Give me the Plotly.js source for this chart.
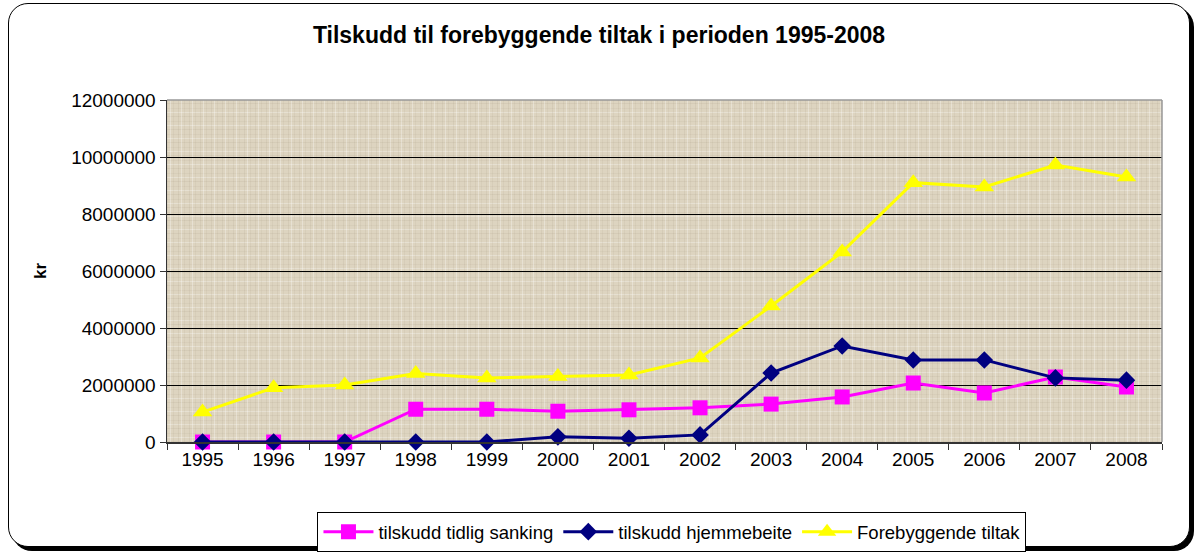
<!DOCTYPE html>
<html>
<head>
<meta charset="utf-8">
<script src="https://cdn.plot.ly/plotly-3.0.1.min.js"></script>
<style>
  html, body { margin: 0; padding: 0; background: #ffffff; }
  #frame {
    position: absolute; left: 8px; top: 3px; width: 1180px; height: 542px;
    border: 1.5px solid #000; border-radius: 20px;
    box-shadow: 4px 4px 0 #000; background: #fff;
  }
  #texture {
    position: absolute; left: 167px; top: 100px; width: 995px; height: 342px;
    background-color: #ddd4c0;
    background-image:
      repeating-linear-gradient(90deg, rgba(140,125,100,0.10) 0 1px, rgba(0,0,0,0) 1px 3px, rgba(255,255,255,0.30) 3px 4px, rgba(0,0,0,0) 4px 6px, rgba(140,125,100,0.08) 6px 7px, rgba(0,0,0,0) 7px 11px),
      repeating-linear-gradient(0deg, rgba(140,125,100,0.10) 0 1px, rgba(0,0,0,0) 1px 4px, rgba(255,255,255,0.28) 4px 5px, rgba(0,0,0,0) 5px 8px, rgba(140,125,100,0.07) 8px 9px, rgba(0,0,0,0) 9px 13px);
  }
  #chart { position: absolute; left: 0; top: 0; width: 1198px; height: 553px; }
</style>
</head>
<body>
<div id="frame"></div>
<div id="texture"></div>
<div id="chart"></div>
<script>
const years = ['1995','1996','1997','1998','1999','2000','2001','2002','2003','2004','2005','2006','2007','2008'];
const tidligSanking = [0, 0, 0, 1150000, 1150000, 1080000, 1130000, 1200000, 1330000, 1580000, 2070000, 1720000, 2280000, 1930000];
const hjemmebeite   = [0, 0, 0, 0, 0, 180000, 130000, 250000, 2420000, 3370000, 2880000, 2880000, 2250000, 2170000];
const forebyggende  = [1050000, 1900000, 2000000, 2400000, 2250000, 2300000, 2350000, 2950000, 4770000, 6670000, 9100000, 8950000, 9720000, 9300000];
const yTicks = [0, 2000000, 4000000, 6000000, 8000000, 10000000, 12000000];
const yTickText = ['0','2000000','4000000','6000000','8000000','10000000','12000000'];

const FONT = 'Liberation Sans, Arial, sans-serif';

const traces = [
  { x: years, y: tidligSanking, name: 'tilskudd tidlig sanking', type: 'scatter', mode: 'lines+markers', cliponaxis: false,
    line: { color: '#ff00ff', width: 3 }, marker: { symbol: 'square', size: 15, color: '#ff00ff' } },
  { x: years, y: hjemmebeite, name: 'tilskudd hjemmebeite', type: 'scatter', mode: 'lines+markers', cliponaxis: false,
    line: { color: '#000080', width: 3 }, marker: { symbol: 'diamond', size: 13.5, color: '#000080' } },
  { x: years, y: forebyggende, name: 'Forebyggende tiltak', type: 'scatter', mode: 'lines+markers', cliponaxis: false,
    line: { color: '#ffff00', width: 3 }, marker: { symbol: 'triangle-up', size: 17, color: '#ffff00' } }
];

const layout = {
  width: 1198, height: 553,
  paper_bgcolor: 'rgba(0,0,0,0)', plot_bgcolor: 'rgba(0,0,0,0)',
  margin: { l: 167, r: 36, t: 100, b: 111, autoexpand: false },
  font: { family: FONT, color: '#000', size: 17 },
  title: { text: '<b>Tilskudd til forebyggende tiltak i perioden 1995-2008</b>',
    font: { family: FONT, size: 23, color: '#000' }, x: 0.5, xanchor: 'center', y: 0.937, yanchor: 'middle' },
  xaxis: {
    type: 'category', range: [-0.5, 13.5], autorange: false, automargin: false,
    tickson: 'boundaries', ticks: 'outside', ticklen: 6, tickcolor: '#333',
    showline: true, linecolor: '#333', linewidth: 1.5, showgrid: false, zeroline: false,
    tickfont: { family: FONT, size: 19, color: '#000' }
  },
  yaxis: {
    range: [0, 12000000], autorange: false, automargin: false,
    tickvals: yTicks, ticktext: yTickText, ticks: 'outside', ticklen: 6, tickcolor: '#333',
    showline: true, linecolor: '#333', linewidth: 1.5, showgrid: true, gridcolor: '#000', gridwidth: 1,
    zeroline: false, tickfont: { family: FONT, size: 19, color: '#000' },
    title: { text: '<b>kr</b>', font: { family: FONT, size: 17, color: '#000' }, standoff: 20 }
  },
  showlegend: true,
  legend: {
    orientation: 'h', x: 0.5075, xanchor: 'center', y: -0.205, yanchor: 'top',
    bordercolor: '#000', borderwidth: 1, bgcolor: '#fff', itemwidth: 50,
    font: { family: FONT, size: 18.5, color: '#000' }, tracegroupgap: 0
  },
  shapes: [
    { type: 'line', xref: 'paper', yref: 'paper', x0: 1, x1: 1, y0: 0, y1: 1, line: { color: '#999', width: 1.5 } },
    { type: 'line', xref: 'paper', yref: 'paper', x0: 0, x1: 1, y0: 1, y1: 1, line: { color: '#999', width: 1.5 } }
  ]
};

Plotly.newPlot('chart', traces, layout, { displayModeBar: false, staticPlot: true });
</script>
</body>
</html>
